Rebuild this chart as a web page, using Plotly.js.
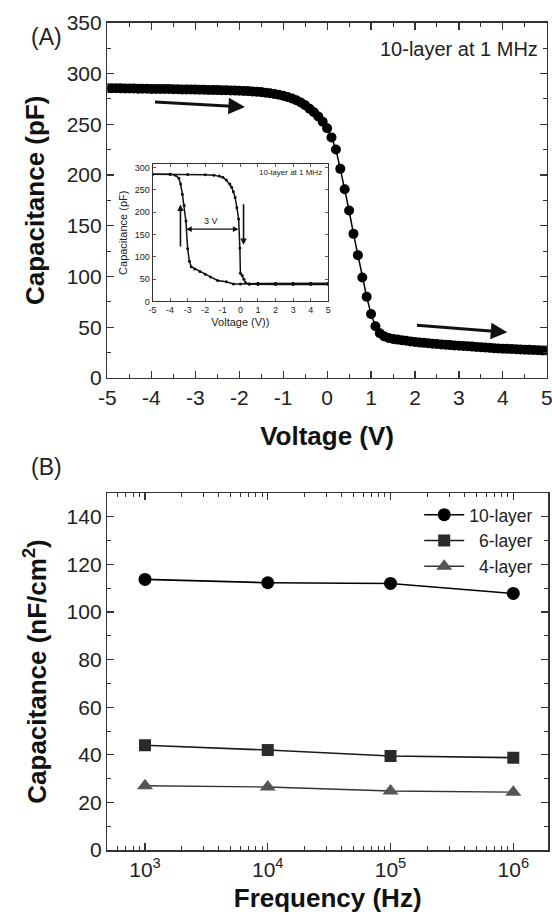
<!DOCTYPE html>
<html>
<head>
<meta charset="utf-8">
<script src="https://cdn.plot.ly/plotly-3.0.1.min.js"></script>
<style>
  html, body { margin: 0; padding: 0; background: #ffffff; }
  #chart { width: 552px; height: 915px; }
</style>
</head>
<body>
<div id="chart"></div>
<script>
// ---------- Panel A: C-V sweep, 10-layer at 1 MHz ----------
const voltage = [
  -5.0, -4.9, -4.8, -4.7, -4.6, -4.5, -4.4, -4.3, -4.2, -4.1,
  -4.0, -3.9, -3.8, -3.7, -3.6, -3.5, -3.4, -3.3, -3.2, -3.1,
  -3.0, -2.9, -2.8, -2.7, -2.6, -2.5, -2.4, -2.3, -2.2, -2.1,
  -2.0, -1.9, -1.8, -1.7, -1.6, -1.5, -1.4, -1.3, -1.2, -1.1,
  -1.0, -0.9, -0.8, -0.7, -0.6, -0.5, -0.4, -0.3, -0.2, -0.1,
  0.0, 0.1, 0.2, 0.3, 0.4, 0.5, 0.6, 0.7, 0.8, 0.9,
  1.0, 1.1, 1.2, 1.3, 1.4, 1.5, 1.6, 1.7, 1.8, 1.9,
  2.0, 2.1, 2.2, 2.3, 2.4, 2.5, 2.6, 2.7, 2.8, 2.9,
  3.0, 3.1, 3.2, 3.3, 3.4, 3.5, 3.6, 3.7, 3.8, 3.9,
  4.0, 4.1, 4.2, 4.3, 4.4, 4.5, 4.6, 4.7, 4.8, 4.9,
  5.0
];
const capacitancePF = [
  285.5, 285.4, 285.4, 285.3, 285.2, 285.2, 285.1, 285.0, 285.0, 284.9,
  284.8, 284.8, 284.7, 284.6, 284.6, 284.5, 284.4, 284.3, 284.3, 284.2,
  284.1, 284.0, 283.9, 283.8, 283.7, 283.6, 283.5, 283.4, 283.3, 283.1,
  283.0, 282.8, 282.6, 282.3, 282.0, 281.6, 281.1, 280.5, 279.8, 279.0,
  278.0, 276.8, 275.4, 273.6, 271.4, 268.6, 265.3, 261.8, 257.6, 252.5,
  246.0, 237.0, 225.0, 206.0, 186.0, 165.0, 142.0, 121.0, 99.0, 80.0,
  63.0, 51.0, 44.0, 41.0, 39.5, 38.5, 37.8, 37.2, 36.6, 36.0,
  35.5, 35.0, 34.6, 34.2, 33.8, 33.4, 33.0, 32.7, 32.4, 32.1,
  31.8, 31.5, 31.2, 30.9, 30.6, 30.3, 30.0, 29.7, 29.4, 29.1,
  28.9, 28.7, 28.5, 28.3, 28.1, 27.9, 27.7, 27.5, 27.3, 27.1,
  27.0
];
const voltageTickVals = [-5, -4, -3, -2, -1, 0, 1, 2, 3, 4, 5];
const voltageTickText = ['-5', '-4', '-3', '-2', '-1', '0', '1', '2', '3', '4', '5'];

// ---------- Inset: hysteresis loop ----------
const insetForwardV = [-5, -4, -3, -2, -1.5, -1.2, -1.0, -0.8, -0.6, -0.5, -0.4, -0.3, -0.2, -0.1, -0.03, 0.0, 0.1, 0.2, 0.3, 0.5, 1, 2, 3, 4, 5];
const insetForwardC = [285, 285, 284.5, 284, 283, 281, 278, 272, 263, 256, 246, 233, 210, 185, 120, 63, 58, 50, 42, 38.5, 38, 38, 38, 38, 38];
const insetReverseV = [5, 4, 3, 2, 1, 0.5, 0, -0.4, -0.8, -1.3, -1.7, -2.0, -2.3, -2.6, -2.8, -2.9, -3.0, -3.1, -3.2, -3.3, -3.4, -3.5, -3.7, -4, -5];
const insetReverseC = [41, 41, 41, 41, 41, 40, 39, 39, 44, 47, 55, 61, 67, 73, 78, 90, 118, 180, 215, 240, 263, 276, 283, 285, 285];

// ---------- Panel B: capacitance vs frequency ----------
const frequencyHz = [1e3, 1e4, 1e5, 1e6];
const freqTickText = ['10<sup>3</sup>', '10<sup>4</sup>', '10<sup>5</sup>', '10<sup>6</sup>'];
const seriesNames = ['10-layer', '\u20076-layer', '\u20074-layer'];
const cap10Layer = [113.7, 112.3, 112.0, 107.8];
const cap6Layer = [44.0, 42.0, 39.5, 38.8];
const cap4Layer = [27.0, 26.5, 24.8, 24.3];

const FONT = 'Liberation Sans, Arial, sans-serif';
const AX = '#333333';

const traces = [
  {
    x: voltage, y: capacitancePF, xaxis: 'x', yaxis: 'y',
    type: 'scatter', mode: 'lines+markers', showlegend: false,
    line: { color: '#000', width: 1.5 },
    marker: { symbol: 'circle', size: 10, color: '#000' }
  },
  {
    x: insetForwardV, y: insetForwardC, xaxis: 'x3', yaxis: 'y3',
    type: 'scatter', mode: 'lines+markers', showlegend: false,
    line: { color: '#111', width: 1.5 },
    marker: { symbol: 'circle', size: 3, color: '#111' }
  },
  {
    x: insetReverseV, y: insetReverseC, xaxis: 'x3', yaxis: 'y3',
    type: 'scatter', mode: 'lines+markers', showlegend: false,
    line: { color: '#111', width: 1.5 },
    marker: { symbol: 'circle', size: 3, color: '#111' }
  },
  {
    x: frequencyHz, y: cap10Layer, xaxis: 'x2', yaxis: 'y2', name: seriesNames[0],
    type: 'scatter', mode: 'lines+markers',
    line: { color: '#000', width: 1.6 },
    marker: { symbol: 'circle', size: 13, color: '#000' }
  },
  {
    x: frequencyHz, y: cap6Layer, xaxis: 'x2', yaxis: 'y2', name: seriesNames[1],
    type: 'scatter', mode: 'lines+markers',
    line: { color: '#1a1a1a', width: 1.6 },
    marker: { symbol: 'square', size: 12, color: '#2a2a2a' }
  },
  {
    x: frequencyHz, y: cap4Layer, xaxis: 'x2', yaxis: 'y2', name: seriesNames[2],
    type: 'scatter', mode: 'lines+markers',
    line: { color: '#333', width: 1.4 },
    marker: { symbol: 'triangle-up', size: 14, color: '#555' }
  }
];

function axisBase(extra) {
  return Object.assign({
    showline: true, linecolor: AX, linewidth: 1.5, mirror: 'ticks',
    ticks: 'inside', tickcolor: AX, tickwidth: 1.2,
    showgrid: false, zeroline: false, automargin: false,
    ticklabeloverflow: 'allow',
    tickfont: { family: FONT, size: 21, color: '#222' }
  }, extra);
}

const layout = {
  width: 552, height: 915,
  margin: { l: 0, r: 0, t: 0, b: 0 },
  paper_bgcolor: '#fff', plot_bgcolor: '#fff',
  font: { family: FONT, color: '#222' },
  showlegend: true,
  legend: {
    x: 0.975, xanchor: 'right', y: 0.457, yanchor: 'top',
    bgcolor: 'rgba(0,0,0,0)', font: { family: FONT, size: 17.5, color: '#222' },
    itemwidth: 40, tracegroupgap: 0
  },
  xaxis: axisBase({
    domain: [0.1946, 0.9906], anchor: 'y', range: [-5, 5], ticklen: 7,
    tickvals: voltageTickVals, ticktext: voltageTickText,
    minor: { ticks: 'inside', dtick: 0.5, tick0: 0, ticklen: 4, tickcolor: AX, tickwidth: 1 },
    title: { text: '<b>Voltage (V)</b>', font: { family: FONT, size: 26, color: '#111' }, standoff: 19 }
  }),
  yaxis: axisBase({
    domain: [0.5869, 0.9752], anchor: 'x', range: [0, 350], dtick: 50, tick0: 0, ticklen: 7,
    minor: { ticks: 'inside', dtick: 25, ticklen: 4, tickcolor: AX, tickwidth: 1 },
    title: { text: '<b>Capacitance (pF)</b>', font: { family: FONT, size: 26, color: '#111' }, standoff: 14 }
  }),
  xaxis2: axisBase({
    domain: [0.1944, 0.9928], anchor: 'y2', type: 'log', range: [2.693, 6.283],
    tickvals: frequencyHz, ticktext: freqTickText, ticklen: 7,
    minor: { ticks: 'inside', dtick: 'D1', ticklen: 4, tickcolor: AX, tickwidth: 1 },
    title: { text: '<b>Frequency (Hz)</b>', font: { family: FONT, size: 26, color: '#111' }, standoff: 9 }
  }),
  yaxis2: axisBase({
    domain: [0.0710, 0.4612], anchor: 'x2', range: [0, 150], dtick: 20, tick0: 0, ticklen: 7,
    minor: { ticks: 'inside', dtick: 10, ticklen: 4, tickcolor: AX, tickwidth: 1 },
    title: { text: '<b>Capacitance (nF/cm<sup>2</sup>)</b>', font: { family: FONT, size: 26, color: '#111' }, standoff: 12 }
  }),
  xaxis3: axisBase({
    domain: [0.2763, 0.5947], anchor: 'y3', range: [-5, 5], ticklen: 3,
    tickvals: voltageTickVals, ticktext: voltageTickText,
    linewidth: 1, tickwidth: 0.8,
    tickfont: { family: FONT, size: 9, color: '#222' },
    title: { text: 'Voltage (V))', font: { family: FONT, size: 11, color: '#222' }, standoff: 4 }
  }),
  yaxis3: axisBase({
    domain: [0.6705, 0.8208], anchor: 'x3', range: [0, 308], dtick: 50, tick0: 0, ticklen: 3,
    linewidth: 1, tickwidth: 0.8,
    tickfont: { family: FONT, size: 9, color: '#222' },
    title: { text: 'Capacitance (pF)', font: { family: FONT, size: 11, color: '#222' }, standoff: 4 }
  }),
  annotations: [
    { xref: 'paper', yref: 'paper', x: 0.052, y: 0.976, text: '(A)', showarrow: false,
      font: { family: FONT, size: 23, color: '#222' } },
    { xref: 'paper', yref: 'paper', x: 0.052, y: 0.4896, text: '(B)', showarrow: false,
      font: { family: FONT, size: 23, color: '#222' } },
    { xref: 'x', yref: 'y', x: 3.0, y: 324, text: '10-layer at 1 MHz', showarrow: false,
      font: { family: FONT, size: 20, color: '#222' } },
    // sweep-direction arrows, panel A
    { xref: 'x', yref: 'y', axref: 'x', ayref: 'y', x: -1.87, y: 267, ax: -3.95, ay: 272, text: '',
      showarrow: true, arrowhead: 2, arrowsize: 1.1, arrowwidth: 3, arrowcolor: '#111' },
    { xref: 'x', yref: 'y', axref: 'x', ayref: 'y', x: 4.10, y: 45, ax: 2.01, ay: 52, text: '',
      showarrow: true, arrowhead: 2, arrowsize: 1.1, arrowwidth: 3, arrowcolor: '#111' },
    // inset labels
    { xref: 'x3', yref: 'y3', x: 2.85, y: 290, text: '10-layer at 1 MHz', showarrow: false,
      font: { family: FONT, size: 8, color: '#222' } },
    { xref: 'x3', yref: 'y3', x: -1.7, y: 180, text: '3 V', showarrow: false,
      font: { family: FONT, size: 9, color: '#222' } },
    { xref: 'x3', yref: 'y3', axref: 'x3', ayref: 'y3', x: -0.11, y: 162, ax: -3.17, ay: 162, text: '',
      showarrow: true, arrowhead: 2, startarrowhead: 2, arrowside: 'end+start', arrowsize: 0.8, arrowwidth: 1.4, arrowcolor: '#111' },
    { xref: 'x3', yref: 'y3', axref: 'x3', ayref: 'y3', x: -3.41, y: 217, ax: -3.41, ay: 120, text: '',
      showarrow: true, arrowhead: 2, arrowsize: 0.8, arrowwidth: 1.6, arrowcolor: '#111' },
    { xref: 'x3', yref: 'y3', axref: 'x3', ayref: 'y3', x: 0.18, y: 127, ax: 0.18, ay: 221, text: '',
      showarrow: true, arrowhead: 2, arrowsize: 0.8, arrowwidth: 1.6, arrowcolor: '#111' }
  ]
};

Plotly.newPlot('chart', traces, layout, { displayModeBar: false, staticPlot: true });
</script>
</body>
</html>
